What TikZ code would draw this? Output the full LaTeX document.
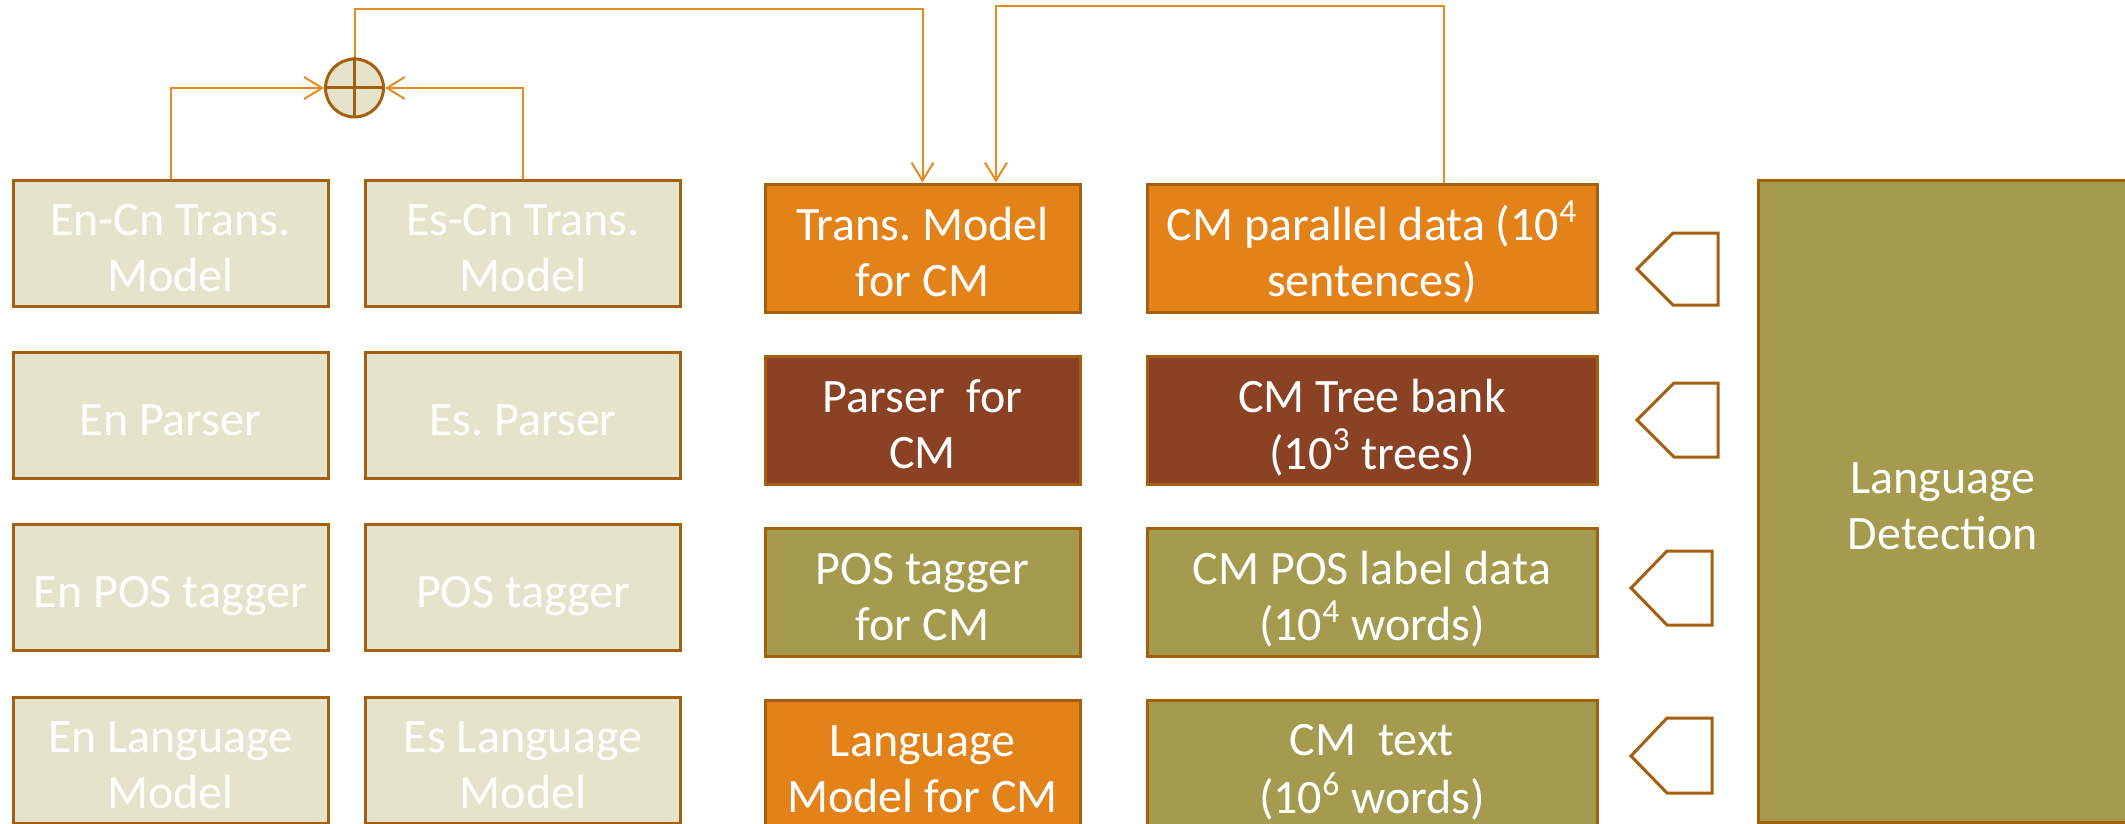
\documentclass[tikz,border=0pt]{standalone}
\usepackage{fontspec}
\setmainfont{Carlito}
\usetikzlibrary{arrows.meta}

\definecolor{paleFill}{HTML}{E5E3CB}
\definecolor{rimBrown}{HTML}{A5600F}
\definecolor{orangeFill}{HTML}{E4821A}
\definecolor{rustFill}{HTML}{8B4123}
\definecolor{oliveFill}{HTML}{A49B4F}
\definecolor{wireOrange}{HTML}{E88B1F}

% centred block of lines, set a little below the box centre
\newcommand\cell[1]{\raisebox{-4.5pt}[\height][\depth]{\begin{tabular}{@{}c@{}}#1\end{tabular}}}

\tikzset{
  box/.style={draw=rimBrown, line width=1.5pt, text=white,
    inner sep=0pt, font=\fontsize{24}{28}\selectfont},
  srcbox/.style={box, fill=paleFill, minimum width=157.5pt, minimum height=63pt},
  cmbox/.style={box, minimum width=157.5pt, minimum height=64pt},
  databox/.style={box, minimum width=225pt, minimum height=64pt},
  conn/.style={draw=wireOrange, line width=1pt,
    -{Straight Barb[length=9pt,width=11pt,line width=1pt]}},
  tag/.style={draw=rimBrown, line width=1.5pt, fill=white, line join=miter},
}

\begin{document}
\begin{tikzpicture}[x=0.5pt, y=-0.5pt]
\useasboundingbox (0,0) rectangle (2125,824);

% source-language components
\node[srcbox] (enCn)  at (170.5,243)   {\cell{En-Cn Trans.\\Model}};
\node[srcbox] (esCn)  at (523,243)     {\cell{Es-Cn Trans.\\Model}};
\node[srcbox] (enPar) at (170.5,415.5) {\cell{En Parser}};
\node[srcbox] (esPar) at (523,415.5)   {\cell{Es.\ Parser}};
\node[srcbox] (enPos) at (170.5,587.5) {\cell{En POS tagger}};
\node[srcbox] (esPos) at (523,587.5)   {\cell{POS tagger}};
\node[srcbox] (enLM)  at (170.5,760)   {\cell{En Language\\Model}};
\node[srcbox] (esLM)  at (523,760)     {\cell{Es Language\\Model}};

% code-mixed components
\node[cmbox, fill=orangeFill] (transCM) at (922.5,248)   {\cell{Trans.\ Model\\for CM}};
\node[cmbox, fill=rustFill]   (parCM)   at (922.5,420.5) {\cell{Parser~ for\\CM}};
\node[cmbox, fill=oliveFill]  (posCM)   at (922.5,592.5) {\cell{POS tagger\\for CM}};
\node[cmbox, fill=orangeFill] (lmCM)    at (922.5,764.5) {\cell{Language\\Model for CM}};

% code-mixed data
\node[databox, fill=orangeFill] (cmPar)  at (1372,248)   {\cell{CM parallel data (10\textsuperscript{4}\\sentences)}};
\node[databox, fill=rustFill]   (cmTree) at (1372,420.5) {\cell{CM Tree bank\\(10\textsuperscript{3} trees)}};
\node[databox, fill=oliveFill]  (cmPos)  at (1372,592.5) {\cell{CM POS label data\\(10\textsuperscript{4} words)}};
\node[databox, fill=oliveFill]  (cmText) at (1372,764.5) {\cell{CM~ text\\(10\textsuperscript{6} words)}};

% language detection
\node[box, fill=oliveFill, minimum width=185pt, minimum height=321pt] (langDet) at (1943,501) {\cell{Language\\Detection}};

% pointer tags
\draw[tag] (1637,269) -- (1673,233) -- (1718,233) -- (1718,305) -- (1673,305) -- cycle;
\draw[tag] (1637,420) -- (1674,383) -- (1718,383) -- (1718,457) -- (1674,457) -- cycle;
\draw[tag] (1631,588) -- (1667,551) -- (1712,551) -- (1712,625) -- (1667,625) -- cycle;
\draw[tag] (1631,756) -- (1667,718) -- (1712,718) -- (1712,793) -- (1667,793) -- cycle;

% combination of the two translation models
\node[circle, draw=rimBrown, fill=paleFill, line width=1.5pt, minimum size=29pt, inner sep=0pt] (sum) at (354.5,88) {};
\draw[rimBrown, line width=1.5pt] (sum.north) -- (sum.south) (sum.west) -- (sum.east);

\draw[conn] (enCn.north) |- (sum.west);
\draw[conn] (esCn.north) |- (sum.east);
\draw[conn] (sum.north) -- ++(0,-48) -| (transCM.north);
\draw[conn] ([xshift=36pt]cmPar.north) -- ++(0,-176) -| ([xshift=36.75pt]transCM.north);
\end{tikzpicture}
\end{document}
